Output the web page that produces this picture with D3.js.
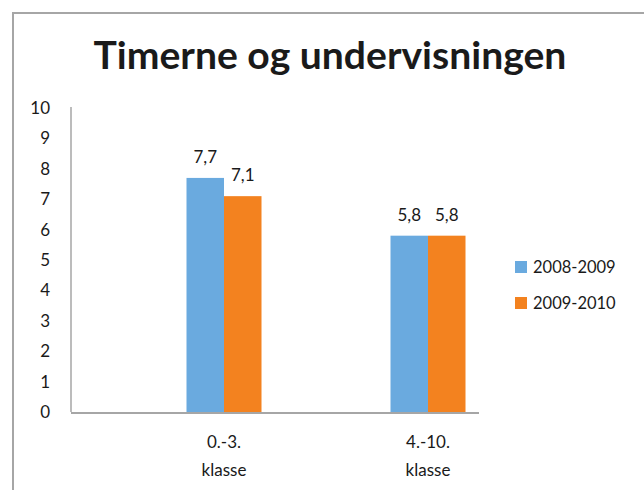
<!DOCTYPE html>
<html>
<head>
<meta charset="utf-8">
<script src="https://cdn.jsdelivr.net/npm/d3@7"></script>
<style>
  html, body { margin: 0; padding: 0; background: #fff; }
  svg { display: block; }
  text { font-family: Lato, "Open Sans", sans-serif; fill: #1a1a1a; }
</style>
</head>
<body>
<script>
const title = "Timerne og undervisningen";
const categories = ["0.-3. klasse", "4.-10. klasse"];
const categoryLines = [["0.-3.", "klasse"], ["4.-10.", "klasse"]];
const seriesNames = ["2008-2009", "2009-2010"];
const values2008 = [7.7, 5.8];
const values2009 = [7.1, 5.8];
const yTicks = [0, 1, 2, 3, 4, 5, 6, 7, 8, 9, 10];
const colors = ["#6aaadf", "#f3821f"];

const W = 644, H = 490;
const svg = d3.select("body").append("svg").attr("width", W).attr("height", H);

// outer frame
svg.append("path").attr("d", `M13,${H} L13,13 L${W},13`)
  .attr("fill", "none").attr("stroke", "#a6a6a6").attr("stroke-width", 2);

// title
const t = svg.append("text").attr("x", 330).attr("y", 69).attr("text-anchor", "middle")
  .attr("font-weight", 700).attr("font-size", 34).text(title);
const tw = t.node().getComputedTextLength();
t.attr("font-size", 34 * 473 / tw);

const plotLeft = 71, plotRight = 479, plotTop = 108, plotBottom = 412;
const y = d3.scaleLinear().domain([0, 10]).range([plotBottom, plotTop]);
const x0 = d3.scaleBand().domain(categories).range([plotLeft + 51, plotRight + 51]);
const x1 = d3.scaleBand().domain(seriesNames).range([-37.5, 37.5]);

const data = categories.map((c, i) => ({
  cat: c,
  vals: [{ s: seriesNames[0], v: values2008[i] }, { s: seriesNames[1], v: values2009[i] }]
}));

// y axis
const yAxis = svg.append("g").attr("transform", `translate(${plotLeft},0)`)
  .call(d3.axisLeft(y).tickValues(yTicks).tickSize(0).tickPadding(21));
yAxis.select(".domain").attr("stroke", "#a6a6a6").attr("stroke-width", 1.5)
  .attr("d", `M0,${plotTop - 1}V${plotBottom}`);
yAxis.selectAll("text").attr("font-size", 17).attr("fill", "#1a1a1a").attr("font-family", "Lato");

// bars
const g = svg.append("g");
data.forEach(d => {
  const cx = x0(d.cat) + x0.bandwidth() / 2;
  d.vals.forEach((e, j) => {
    g.append("rect").attr("x", cx + x1(e.s)).attr("y", y(e.v))
      .attr("width", x1.bandwidth()).attr("height", y(0) - y(e.v))
      .attr("fill", colors[j]);
    g.append("text").attr("x", cx + x1(e.s) + x1.bandwidth() / 2).attr("y", y(e.v) - 15)
      .attr("text-anchor", "middle").attr("font-size", 17)
      .text(String(e.v.toFixed(1)).replace(".", ","));
  });
  categoryLines[categories.indexOf(d.cat)].forEach((line, k) => {
    svg.append("text").attr("x", cx).attr("y", 448 + k * 28).attr("text-anchor", "middle")
      .attr("font-size", 17).text(line);
  });
});

// x axis line
svg.append("line").attr("x1", plotLeft).attr("x2", plotRight)
  .attr("y1", plotBottom + 1).attr("y2", plotBottom + 1)
  .attr("stroke", "#a6a6a6").attr("stroke-width", 2);

// legend
seriesNames.forEach((s, i) => {
  const ly = 267 + i * 36;
  svg.append("rect").attr("x", 515).attr("y", ly - 6).attr("width", 12).attr("height", 12)
    .attr("fill", colors[i]);
  svg.append("text").attr("x", 533).attr("y", ly).attr("dy", "0.35em")
    .attr("font-size", 16.5).text(s);
});
</script>
</body>
</html>
